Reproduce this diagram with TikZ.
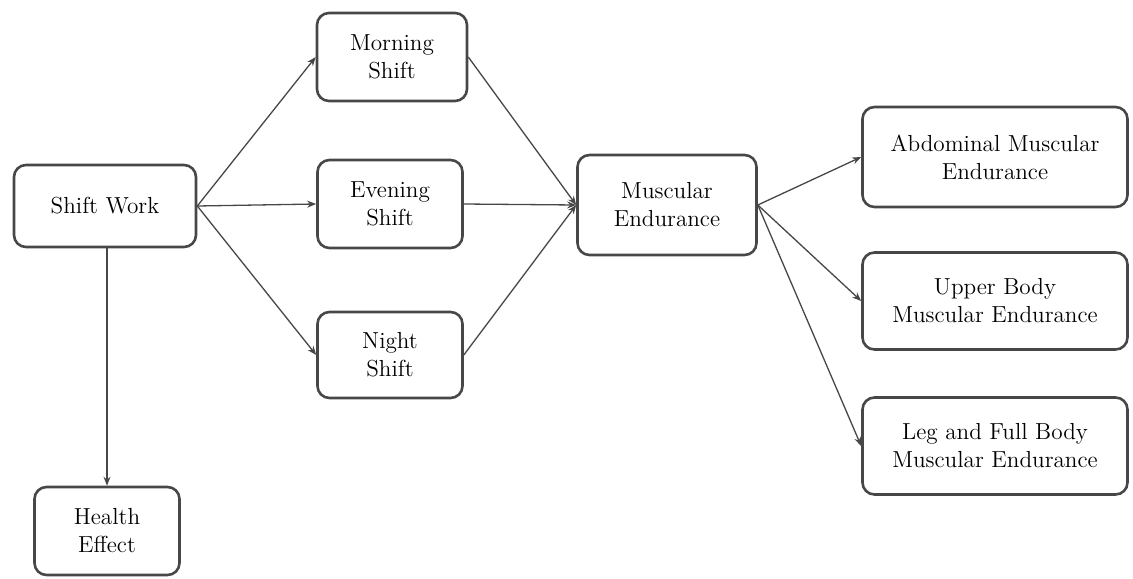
\documentclass[tikz,border=0pt]{standalone}
\usetikzlibrary{arrows.meta}
\begin{document}
\begin{tikzpicture}[x=0.5pt,y=-0.5pt,
  box/.style={draw=black!72, line width=1.3pt, rounded corners=6pt, align=center,
    inner sep=0pt, font=\rmfamily\fontsize{11.6}{14}\selectfont},
  conn/.style={draw=black!72, line width=0.65pt, -{Stealth[length=4.5pt,width=3.5pt]}}
]
\useasboundingbox (0,0) rectangle (1133,578);
\node[box, minimum width=91pt, minimum height=41pt] (sw) at (105,206) {Shift Work};
\node[box, minimum width=75pt, minimum height=44pt] (mo) at (392,57) {Morning\\Shift};
\node[box, minimum width=72.5pt, minimum height=44pt] (ev) at (390,204) {Evening\\Shift};
\node[box, minimum width=72.5pt, minimum height=43pt] (ni) at (390,355) {Night\\Shift};
\node[box, minimum width=89.5pt, minimum height=50pt] (me) at (667,205) {Muscular\\Endurance};
\node[box, minimum width=132.5pt, minimum height=50pt] (ab) at (995,157) {Abdominal Muscular\\Endurance};
\node[box, minimum width=132.5pt, minimum height=48.5pt] (ub) at (995,301) {Upper Body\\Muscular Endurance};
\node[box, minimum width=132.5pt, minimum height=48.5pt] (lf) at (995,446) {Leg and Full Body\\Muscular Endurance};
\node[box, minimum width=72.5pt, minimum height=44pt] (he) at (107,531) {Health\\Effect};
\draw[conn] (sw.east) -- (mo.west);
\draw[conn] (sw.east) -- (ev.west);
\draw[conn] (sw.east) -- (ni.west);
\draw[conn] (he.north |- sw.south) -- (he.north);
\draw[conn] (mo.east) -- (me.west);
\draw[conn] (ev.east) -- (me.west);
\draw[conn] (ni.east) -- (me.west);
\draw[conn] (me.east) -- (ab.west);
\draw[conn] (me.east) -- (ub.west);
\draw[conn] (me.east) -- (lf.west);
\end{tikzpicture}
\end{document}
